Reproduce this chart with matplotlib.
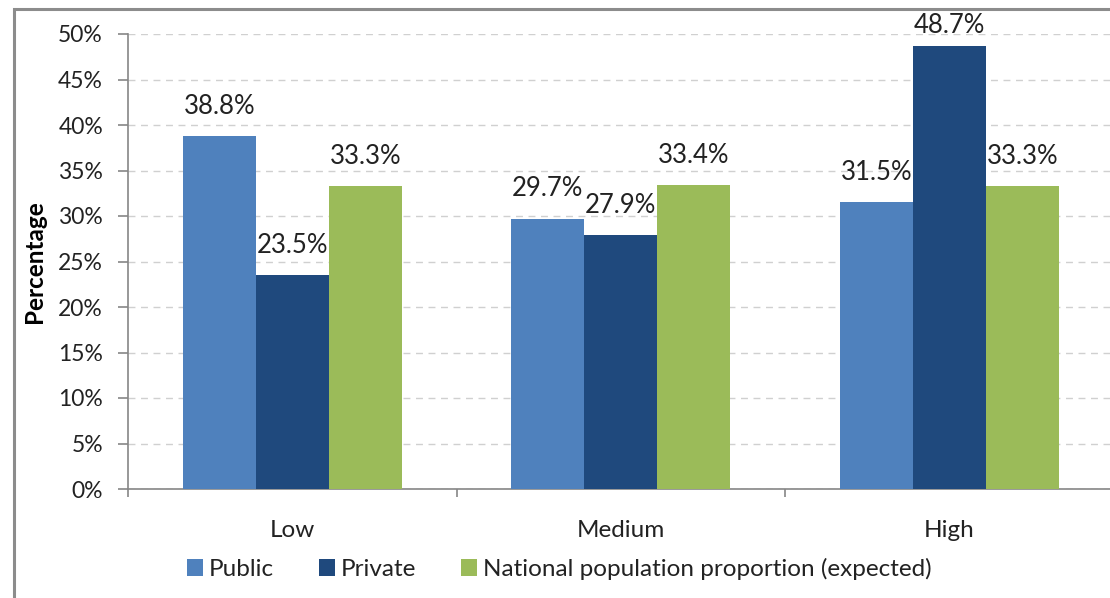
import matplotlib.pyplot as plt
import numpy as np
from matplotlib.patches import Rectangle

categories = ['Low', 'Medium', 'High']
series_names = ['Public', 'Private', 'National population proportion (expected)']
public = [38.8, 29.7, 31.5]
private = [23.5, 27.9, 48.7]
national = [33.3, 33.4, 33.3]
colors = ['#4F81BD', '#1F497D', '#9BBB59']

plt.rcParams['font.family'] = ['Lato', 'DejaVu Sans']

fig = plt.figure(figsize=(11.10, 5.98), dpi=100)
# outer chart border (runs off the right and bottom edges)
fig.patches.append(Rectangle((14 / 1110, -0.05), 1.2, 1 - 8.5 / 598 + 0.05,
                             transform=fig.transFigure, fill=False,
                             edgecolor='#8C8C8C', linewidth=2.2))

ax = fig.add_axes([128 / 1110, 1 - 489 / 598, (3 * 328.5) / 1110, 455 / 598])

x = np.arange(len(categories))
w = 1 / 4.5
for i, (vals, name) in enumerate(zip([public, private, national], series_names)):
    pos = x + (i - 1) * w
    ax.bar(pos, vals, width=w, color=colors[i], label=name, zorder=3)
    for p, v in zip(pos, vals):
        # labels near the top get pushed down inside the plot area
        ax.text(p, min(v + 1.9, 49.6), f'{v:.1f}%', ha='center', va='bottom',
                fontsize=18.5, color='#222222', zorder=4)

ax.set_xlim(-0.5, 2.5)
ax.set_ylim(0, 50)
ax.set_yticks(np.arange(0, 51, 5))
ax.set_yticklabels([f'{t}%' for t in range(0, 51, 5)], fontsize=16.5)
ax.set_xticks(x)
ax.set_xticklabels(categories, fontsize=17.5)
ax.set_xticks(np.arange(-0.5, 3, 1), minor=True)
ax.tick_params(axis='x', which='major', length=0, pad=22)
ax.tick_params(axis='x', which='minor', length=6, color='#868686', width=1.2)
ax.tick_params(axis='y', length=7, color='#868686', width=1.2, pad=11,
               labelcolor='#222222')
ax.tick_params(axis='x', labelcolor='#222222')

ax.grid(axis='y', linestyle=(0, (5, 4)), color='#D0D0D0', linewidth=1, zorder=0)
for s in ['top', 'right']:
    ax.spines[s].set_visible(False)
for s in ['left', 'bottom']:
    ax.spines[s].set_color('#868686')
    ax.spines[s].set_linewidth(1.2)

ax.set_ylabel('Percentage', fontsize=17.5, fontweight='bold')
ax.yaxis.set_label_coords(-0.083, 0.5)

fig.legend(loc='center left', bbox_to_anchor=(165 / 1110, 1 - 569 / 598),
           ncol=3, frameon=False, fontsize=17.5, handlelength=0.65,
           handleheight=0.65, handletextpad=0.25, columnspacing=1.85,
           labelcolor='#222222')

fig.savefig('out.png', dpi=100)
